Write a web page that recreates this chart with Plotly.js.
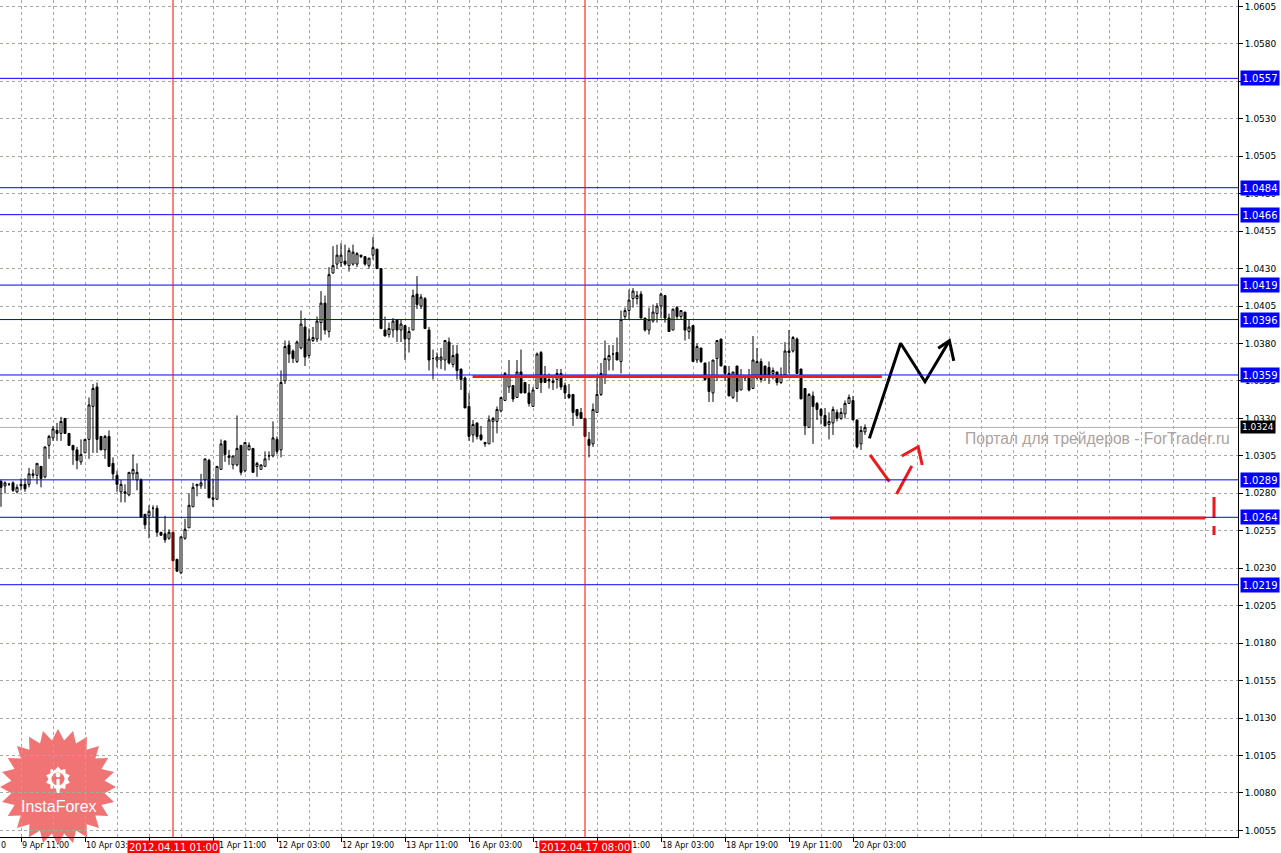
<!DOCTYPE html>
<html>
<head>
<meta charset="utf-8">
<script src="https://cdn.plot.ly/plotly-3.0.1.min.js"></script>
<style>
  html, body { margin: 0; padding: 0; background: #ffffff; }
  #chart { width: 1281px; height: 853px; }
</style>
</head>
<body>
<div id="chart"></div>
<script>
// ---------------- DATA (H1 bars) ----------------
// bar index 0 = 9 Apr 11:00, one bar per hour (weekend skipped)
const firstBarIndex = -5;

const openPrices = [
  1.0288,1.0285,1.0286,1.0287,1.0281,1.0285,1.0286,1.0286,1.0292,1.0292,
  1.0298,1.0291,1.0312,1.0317,1.0322,1.0320,1.0330,1.0320,1.0312,1.0309,
  1.0301,1.0307,1.0316,1.0338,1.0351,1.0318,1.0309,1.0318,1.0300,1.0292,
  1.0281,1.0280,1.0279,1.0293,1.0289,1.0289,1.0266,1.0265,1.0270,1.0270,
  1.0254,1.0253,1.0250,1.0254,1.0236,1.0227,1.0250,1.0257,1.0271,1.0285,
  1.0285,1.0289,1.0302,1.0276,1.0276,1.0296,1.0315,1.0305,1.0299,1.0299,
  1.0312,1.0295,1.0309,1.0310,1.0298,1.0296,1.0298,1.0305,1.0305,1.0316,
  1.0309,1.0355,1.0379,1.0375,1.0368,1.0377,1.0391,1.0372,1.0382,1.0383,
  1.0394,1.0407,1.0388,1.0427,1.0433,1.0434,1.0435,1.0432,1.0433,1.0433,
  1.0439,1.0438,1.0432,1.0439,1.0443,1.0430,1.0389,1.0386,1.0389,1.0396,
  1.0389,1.0392,1.0383,1.0389,1.0413,1.0405,1.0410,1.0389,1.0370,1.0369,
  1.0369,1.0369,1.0381,1.0366,1.0373,1.0363,1.0357,1.0338,1.0319,1.0327,
  1.0319,1.0314,1.0313,1.0328,1.0328,1.0335,1.0342,1.0351,1.0352,1.0344,
  1.0361,1.0354,1.0347,1.0338,1.0350,1.0374,1.0359,1.0356,1.0355,1.0356,
  1.0360,1.0352,1.0346,1.0346,1.0336,1.0334,1.0330,1.0316,1.0313,1.0334,
  1.0346,1.0358,1.0369,1.0373,1.0374,1.0368,1.0398,1.0402,1.0410,1.0410,
  1.0413,1.0397,1.0389,1.0395,1.0400,1.0405,1.0412,1.0397,1.0389,1.0404,
  1.0398,1.0401,1.0388,1.0392,1.0369,1.0377,1.0367,1.0357,1.0347,1.0370,
  1.0383,1.0365,1.0360,1.0344,1.0365,1.0349,1.0358,1.0357,1.0350,1.0357,
  1.0368,1.0365,1.0364,1.0360,1.0361,1.0354,1.0359,1.0374,1.0375,1.0383,
  1.0363,1.0350,1.0324,1.0345,1.0340,1.0336,1.0332,1.0326,1.0327,1.0334,
  1.0330,1.0333,1.0340,1.0342,1.0329,1.0313,1.0321
];
const highPrices = [
  1.0289,1.0288,1.0287,1.0288,1.0286,1.0290,1.0290,1.0297,1.0296,1.0300,
  1.0298,1.0311,1.0319,1.0325,1.0327,1.0331,1.0330,1.0320,1.0312,1.0311,
  1.0316,1.0316,1.0344,1.0353,1.0354,1.0318,1.0319,1.0322,1.0304,1.0295,
  1.0289,1.0286,1.0294,1.0306,1.0300,1.0290,1.0266,1.0272,1.0272,1.0272,
  1.0254,1.0265,1.0256,1.0254,1.0236,1.0251,1.0263,1.0280,1.0287,1.0286,
  1.0293,1.0303,1.0303,1.0290,1.0298,1.0316,1.0315,1.0309,1.0305,1.0332,
  1.0312,1.0314,1.0314,1.0310,1.0301,1.0299,1.0308,1.0308,1.0328,1.0318,
  1.0362,1.0382,1.0382,1.0376,1.0382,1.0402,1.0397,1.0390,1.0391,1.0398,
  1.0415,1.0412,1.0431,1.0445,1.0446,1.0447,1.0446,1.0444,1.0446,1.0441,
  1.0439,1.0438,1.0437,1.0451,1.0443,1.0430,1.0398,1.0394,1.0397,1.0396,
  1.0396,1.0392,1.0391,1.0416,1.0425,1.0413,1.0411,1.0391,1.0376,1.0374,
  1.0377,1.0382,1.0384,1.0379,1.0379,1.0363,1.0358,1.0347,1.0329,1.0327,
  1.0325,1.0314,1.0332,1.0331,1.0338,1.0344,1.0361,1.0369,1.0352,1.0369,
  1.0376,1.0354,1.0353,1.0351,1.0374,1.0375,1.0365,1.0360,1.0358,1.0363,
  1.0363,1.0354,1.0353,1.0346,1.0336,1.0337,1.0330,1.0321,1.0340,1.0358,
  1.0367,1.0382,1.0379,1.0379,1.0384,1.0402,1.0404,1.0416,1.0417,1.0415,
  1.0415,1.0397,1.0404,1.0406,1.0407,1.0414,1.0412,1.0400,1.0403,1.0405,
  1.0402,1.0401,1.0396,1.0392,1.0380,1.0377,1.0367,1.0368,1.0369,1.0382,
  1.0383,1.0365,1.0365,1.0361,1.0365,1.0363,1.0358,1.0363,1.0385,1.0377,
  1.0370,1.0365,1.0368,1.0364,1.0361,1.0364,1.0381,1.0389,1.0385,1.0384,
  1.0363,1.0350,1.0347,1.0348,1.0341,1.0337,1.0337,1.0334,1.0338,1.0336,
  1.0337,1.0342,1.0346,1.0345,1.0329,1.0325,1.0326
];
const lowPrices = [
  1.0271,1.0280,1.0285,1.0281,1.0280,1.0282,1.0281,1.0284,1.0290,1.0286,
  1.0284,1.0290,1.0303,1.0315,1.0315,1.0315,1.0320,1.0312,1.0299,1.0296,
  1.0299,1.0307,1.0303,1.0307,1.0307,1.0309,1.0303,1.0298,1.0289,1.0281,
  1.0274,1.0274,1.0278,1.0289,1.0282,1.0264,1.0256,1.0250,1.0264,1.0251,
  1.0252,1.0247,1.0249,1.0235,1.0228,1.0226,1.0249,1.0257,1.0271,1.0278,
  1.0283,1.0283,1.0277,1.0271,1.0276,1.0296,1.0301,1.0299,1.0296,1.0298,
  1.0292,1.0294,1.0309,1.0294,1.0291,1.0296,1.0298,1.0302,1.0304,1.0306,
  1.0304,1.0353,1.0367,1.0367,1.0367,1.0376,1.0365,1.0370,1.0381,1.0381,
  1.0382,1.0386,1.0384,1.0427,1.0430,1.0431,1.0432,1.0428,1.0432,1.0431,
  1.0437,1.0432,1.0430,1.0436,1.0430,1.0390,1.0385,1.0384,1.0384,1.0381,
  1.0381,1.0369,1.0374,1.0389,1.0403,1.0403,1.0390,1.0362,1.0356,1.0364,
  1.0363,1.0362,1.0366,1.0364,1.0356,1.0349,1.0337,1.0315,1.0314,1.0316,
  1.0315,1.0311,1.0313,1.0314,1.0320,1.0334,1.0342,1.0347,1.0341,1.0344,
  1.0347,1.0347,1.0338,1.0338,1.0350,1.0347,1.0354,1.0350,1.0349,1.0350,
  1.0349,1.0343,1.0343,1.0325,1.0330,1.0330,1.0318,1.0304,1.0311,1.0334,
  1.0345,1.0353,1.0362,1.0362,1.0369,1.0360,1.0396,1.0396,1.0404,1.0406,
  1.0397,1.0388,1.0386,1.0394,1.0394,1.0397,1.0394,1.0388,1.0389,1.0396,
  1.0396,1.0382,1.0383,1.0368,1.0367,1.0367,1.0355,1.0341,1.0341,1.0355,
  1.0365,1.0355,1.0345,1.0343,1.0341,1.0349,1.0355,1.0348,1.0350,1.0356,
  1.0354,1.0355,1.0353,1.0356,1.0352,1.0353,1.0359,1.0360,1.0374,1.0360,
  1.0343,1.0319,1.0324,1.0313,1.0329,1.0326,1.0325,1.0316,1.0319,1.0328,
  1.0329,1.0330,1.0340,1.0329,1.0310,1.0309,1.0319
];
const closePrices = [
  1.0284,1.0287,1.0286,1.0282,1.0284,1.0286,1.0283,1.0293,1.0293,1.0300,
  1.0290,1.0311,1.0318,1.0323,1.0320,1.0328,1.0320,1.0312,1.0309,1.0302,
  1.0306,1.0316,1.0339,1.0350,1.0316,1.0309,1.0318,1.0298,1.0293,1.0286,
  1.0286,1.0281,1.0294,1.0296,1.0294,1.0264,1.0259,1.0268,1.0270,1.0254,
  1.0252,1.0249,1.0254,1.0235,1.0228,1.0251,1.0256,1.0272,1.0284,1.0286,
  1.0287,1.0303,1.0277,1.0277,1.0298,1.0313,1.0306,1.0304,1.0305,1.0310,
  1.0294,1.0314,1.0312,1.0294,1.0300,1.0299,1.0303,1.0305,1.0317,1.0308,
  1.0354,1.0378,1.0373,1.0370,1.0381,1.0393,1.0371,1.0383,1.0384,1.0395,
  1.0407,1.0389,1.0426,1.0432,1.0439,1.0439,1.0433,1.0442,1.0441,1.0440,
  1.0438,1.0433,1.0437,1.0444,1.0430,1.0390,1.0385,1.0390,1.0395,1.0389,
  1.0393,1.0383,1.0388,1.0412,1.0406,1.0411,1.0390,1.0369,1.0370,1.0371,
  1.0371,1.0382,1.0367,1.0372,1.0362,1.0356,1.0337,1.0318,1.0326,1.0318,
  1.0316,1.0313,1.0329,1.0330,1.0336,1.0344,1.0360,1.0358,1.0343,1.0361,
  1.0347,1.0347,1.0340,1.0349,1.0373,1.0354,1.0354,1.0355,1.0354,1.0360,
  1.0351,1.0347,1.0344,1.0334,1.0332,1.0330,1.0318,1.0312,1.0336,1.0346,
  1.0360,1.0370,1.0372,1.0373,1.0369,1.0396,1.0402,1.0409,1.0415,1.0412,
  1.0397,1.0389,1.0396,1.0401,1.0405,1.0413,1.0397,1.0388,1.0403,1.0398,
  1.0402,1.0389,1.0391,1.0368,1.0378,1.0368,1.0356,1.0348,1.0369,1.0382,
  1.0365,1.0360,1.0345,1.0361,1.0348,1.0358,1.0357,1.0349,1.0369,1.0368,
  1.0356,1.0359,1.0359,1.0362,1.0354,1.0359,1.0375,1.0375,1.0384,1.0360,
  1.0343,1.0325,1.0346,1.0338,1.0336,1.0332,1.0325,1.0328,1.0336,1.0330,
  1.0334,1.0340,1.0344,1.0329,1.0311,1.0322,1.0324
];

// time axis labels (bar index -> label)
const timeTickIndex = [0, 16, 32, 48, 64, 80, 96, 112, 128, 144, 160, 176, 192, 208];
const timeTickLabels = ["9 Apr 11:00","10 Apr 03:00","10 Apr 19:00","11 Apr 11:00","12 Apr 03:00",
  "12 Apr 19:00","13 Apr 11:00","16 Apr 03:00","16 Apr 19:00","17 Apr 11:00","18 Apr 03:00",
  "18 Apr 19:00","19 Apr 11:00","20 Apr 03:00"];
const gridBarIndex = [0,8,16,24,32,40,48,56,64,72,80,88,96,104,112,120,128,136,144,152,160,
  168,176,184,192,200,208,216,224,232,240,248,256,264,272,280,288,296];

// horizontal support / resistance levels
const levelPrices = [1.0557, 1.0484, 1.0466, 1.0419, 1.0396, 1.0359, 1.0289, 1.0264, 1.0219];
const currentPrice = 1.0324;

// vertical time markers
const markerBarIndex = [38, 141];
const markerLabels = ["2012.04.11 01:00", "2012.04.17 08:00"];

// analyst red horizontal lines: [startIndex, endIndex, price]
const redLineStart = [112.9, 202.25];
const redLineEnd = [215.2, 296.0];
const redLinePrice = [1.0358, 1.02635];

// black projected path (with arrow head)
const blackPathX = [212.1, 219.9, 226.0, 232.1, null, 229.3, 232.1, 233.2];
const blackPathY = [1.03167, 1.03802, 1.03545, 1.03819, null, 1.03768, 1.03819, 1.03684];

// red alternative path (dashed zig-zag with arrow head)
const redPathX = [212.25, 217.1, null, 218.9, 222.7, null, 220.2, 224.3, 225.3];
const redPathY = [1.03056, 1.02878, null, 1.02796, 1.02983, null, 1.03049, 1.03111, 1.02989];

// red dashed stop marker
const stopMarkX = [298.25, 298.25];
const stopMarkY = [1.02776, 1.02522];

// ---------------- CHART ----------------
const barX = openPrices.map((_, k) => firstBarIndex + k);
const FONT = "DejaVu Sans, Arial, sans-serif";
const GRID = "#a3aba3";

const traces = [
  {
    type: "candlestick",
    x: barX, open: openPrices, high: highPrices, low: lowPrices, close: closePrices,
    increasing: { line: { color: "#000000", width: 1 }, fillcolor: "#ffffff" },
    decreasing: { line: { color: "#000000", width: 1 }, fillcolor: "#000000" },
    whiskerwidth: 0,
    hoverinfo: "skip",
    showlegend: false
  },
  {
    type: "scatter", mode: "lines", x: blackPathX, y: blackPathY,
    line: { color: "#000000", width: 3 }, connectgaps: false, hoverinfo: "skip", showlegend: false
  },
  {
    type: "scatter", mode: "lines", x: redPathX, y: redPathY,
    line: { color: "#f01818", width: 3 }, connectgaps: false, hoverinfo: "skip", showlegend: false
  },
  {
    type: "scatter", mode: "lines", x: stopMarkX, y: stopMarkY,
    line: { color: "#f01818", width: 3, dash: "21px,8px" }, hoverinfo: "skip", showlegend: false
  }
];

const PW = 1238, PH = 837;
const px = (x) => x / PW;
const py = (y) => 1 - y / PH;

function starPath(cx, cy, R, r, n) {
  let d = "";
  for (let k = 0; k < 2 * n; k++) {
    const ang = -Math.PI / 2 + k * Math.PI / n;
    const rad = (k % 2 === 0) ? R : r;
    const X = px(cx + rad * Math.cos(ang));
    const Y = py(cy + rad * Math.sin(ang));
    d += (k === 0 ? "M" : "L") + X.toFixed(5) + "," + Y.toFixed(5);
  }
  return d + "Z";
}

const shapes = [];
// logo star (below grid)
shapes.push({ type: "path", xref: "paper", yref: "paper", path: starPath(58, 787, 58, 47, 24),
  fillcolor: "rgba(236,72,72,0.76)", line: { width: 0 }, layer: "below" });
// logo gear icon
shapes.push({ type: "path", xref: "paper", yref: "paper", path: starPath(58, 779, 12.5, 9.5, 10),
  fillcolor: "#ffffff", line: { width: 0 }, layer: "below" });
shapes.push({ type: "circle", xref: "paper", yref: "paper",
  x0: px(51.5), x1: px(64.5), y0: py(785.5), y1: py(772.5),
  fillcolor: "#f07272", line: { width: 0 }, layer: "below" });
shapes.push({ type: "circle", xref: "paper", yref: "paper",
  x0: px(55.6), x1: px(60.4), y0: py(777.4), y1: py(772.6),
  fillcolor: "#ffffff", line: { width: 0 }, layer: "below" });
shapes.push({ type: "rect", xref: "paper", yref: "paper",
  x0: px(56.4), x1: px(59.6), y0: py(793), y1: py(779),
  fillcolor: "#ffffff", line: { width: 0 }, layer: "below" });

// current price line
shapes.push({ type: "line", xref: "paper", x0: 0, x1: 1, yref: "y", y0: currentPrice, y1: currentPrice,
  line: { color: "#b4b4b4", width: 1 }, layer: "below" });
// blue levels
levelPrices.forEach(p => shapes.push({ type: "line", xref: "paper", x0: 0, x1: 1, yref: "y", y0: p, y1: p,
  line: { color: "#0000ff", width: 1 }, layer: "above" }));
// vertical red markers
markerBarIndex.forEach(i => shapes.push({ type: "line", xref: "x", x0: i, x1: i, yref: "paper", y0: 0, y1: 1,
  line: { color: "#ff0000", width: 1 }, layer: "above" }));
// red analyst horizontal lines
redLinePrice.forEach((p, k) => shapes.push({ type: "line", xref: "x", x0: redLineStart[k], x1: redLineEnd[k],
  yref: "y", y0: p, y1: p, line: { color: "#ee1c1c", width: 3 }, layer: "above" }));

const annotations = [];
levelPrices.forEach(p => annotations.push({
  xref: "paper", x: 1, xanchor: "left", xshift: 2, yref: "y", y: p, yanchor: "middle",
  text: p.toFixed(4), showarrow: false, bgcolor: "#0000ff", borderpad: 1.5,
  font: { family: FONT, size: 10, color: "#ffffff" }
}));
annotations.push({
  xref: "paper", x: 1, xanchor: "left", xshift: 2, yref: "y", y: currentPrice, yanchor: "middle",
  text: currentPrice.toFixed(4), showarrow: false, bgcolor: "#000000", borderpad: 1,
  font: { family: FONT, size: 9, color: "#ffffff" }
});
markerBarIndex.forEach((i, k) => annotations.push({
  xref: "x", x: i, xanchor: "center", yref: "paper", y: 0, yanchor: "top", yshift: -3,
  text: markerLabels[k], showarrow: false, bgcolor: "#ff0000", borderpad: 1,
  font: { family: FONT, size: 10, color: "#ffffff" }
}));
annotations.push({
  xref: "paper", x: 0, xanchor: "left", xshift: -1, yref: "paper", y: 0, yanchor: "top", yshift: -2,
  text: "0", showarrow: false, font: { family: FONT, size: 8, color: "#000000" }
});
annotations.push({
  xref: "paper", x: px(1232), xanchor: "right", yref: "paper", y: py(438), yanchor: "middle",
  text: "Портал для трейдеров - ForTrader.ru", showarrow: false,
  font: { family: "Liberation Sans, Arial, sans-serif", size: 15.6, color: "#aba1a1" }
});
annotations.push({
  xref: "paper", x: px(59), xanchor: "center", yref: "paper", y: py(806), yanchor: "middle",
  text: "InstaForex", showarrow: false,
  font: { family: "Liberation Sans, Arial, sans-serif", size: 16, color: "#ffffff" }
});

const layout = {
  width: 1281, height: 853,
  margin: { l: 0, r: 43, t: 0, b: 16, pad: 0 },
  paper_bgcolor: "#ffffff", plot_bgcolor: "#ffffff",
  showlegend: false,
  boxgap: 0.5, boxgroupgap: 0,
  font: { family: FONT, size: 8, color: "#000000" },
  xaxis: {
    range: [-5.25, 304.25], fixedrange: true,
    rangeslider: { visible: false },
    tickmode: "array", tickvals: timeTickIndex, ticktext: timeTickLabels,
    ticklabelposition: "outside right", ticklabeloverflow: "allow",
    ticks: "outside", ticklen: 4, tickcolor: "#000000", tickwidth: 1,
    tickfont: { family: FONT, size: 8, color: "#000000" },
    showline: true, linecolor: "#000000", linewidth: 1, mirror: false,
    showgrid: true, gridcolor: GRID, griddash: "3px,3px", gridwidth: 1,
    minor: { tickmode: "array", tickvals: gridBarIndex, showgrid: true, gridcolor: GRID,
      griddash: "3px,3px", gridwidth: 1, ticks: "" },
    zeroline: false
  },
  yaxis: {
    side: "right", range: [1.00506, 1.06093], fixedrange: true,
    tickmode: "linear", tick0: 1.0055, dtick: 0.0025, tickformat: ".4f",
    ticks: "outside", ticklen: 4, tickcolor: "#000000", tickwidth: 1,
    tickfont: { family: FONT, size: 9, color: "#000000" },
    showline: true, linecolor: "#000000", linewidth: 1,
    showgrid: true, gridcolor: GRID, griddash: "3px,3px", gridwidth: 1,
    zeroline: false
  },
  shapes: shapes,
  annotations: annotations
};

Plotly.newPlot("chart", traces, layout, { staticPlot: true, displayModeBar: false });
</script>
</body>
</html>
